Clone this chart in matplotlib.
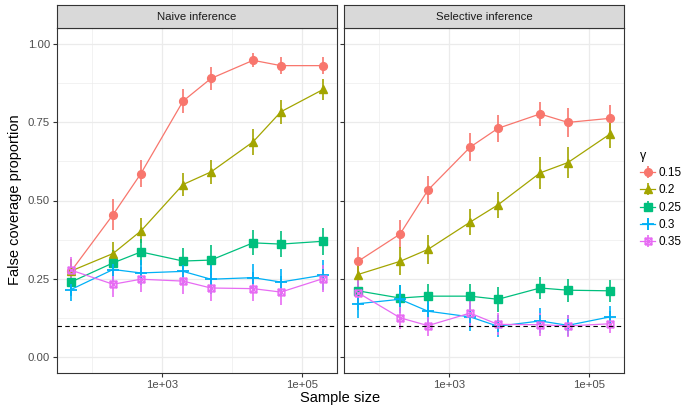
import numpy as np
import matplotlib
matplotlib.use('Agg')
import matplotlib.pyplot as plt
from matplotlib.path import Path
from matplotlib.ticker import FixedLocator, NullFormatter

plt.rcParams['font.family'] = ['Liberation Sans', 'DejaVu Sans']

# data
sample_size = [50, 200, 500, 2000, 5000, 20000, 50000, 200000]
gammas = ['0.15', '0.2', '0.25', '0.3', '0.35']
panels = ['Naive inference', 'Selective inference']

naive = {
    '0.15': [0.274, 0.455, 0.586, 0.817, 0.889, 0.947, 0.930, 0.930],
    '0.2':  [0.275, 0.331, 0.403, 0.551, 0.591, 0.687, 0.783, 0.854],
    '0.25': [0.240, 0.301, 0.336, 0.307, 0.310, 0.365, 0.361, 0.370],
    '0.3':  [0.216, 0.280, 0.269, 0.274, 0.249, 0.254, 0.240, 0.262],
    '0.35': [0.278, 0.233, 0.249, 0.243, 0.221, 0.219, 0.208, 0.251],
}
naive_err = {
    '0.15': [0.040, 0.050, 0.043, 0.037, 0.036, 0.022, 0.027, 0.027],
    '0.2':  [0.040, 0.037, 0.040, 0.038, 0.038, 0.041, 0.038, 0.034],
    '0.25': [0.040, 0.040, 0.042, 0.043, 0.047, 0.040, 0.041, 0.043],
    '0.3':  [0.037, 0.040, 0.040, 0.040, 0.047, 0.044, 0.042, 0.048],
    '0.35': [0.043, 0.041, 0.040, 0.040, 0.043, 0.040, 0.040, 0.043],
}
selective = {
    '0.15': [0.306, 0.393, 0.533, 0.670, 0.730, 0.776, 0.749, 0.762],
    '0.2':  [0.264, 0.306, 0.344, 0.431, 0.486, 0.588, 0.621, 0.712],
    '0.25': [0.212, 0.189, 0.195, 0.195, 0.185, 0.221, 0.214, 0.212],
    '0.3':  [0.171, 0.185, 0.147, 0.129, 0.099, 0.116, 0.102, 0.129],
    '0.35': [0.206, 0.126, 0.101, 0.141, 0.105, 0.104, 0.100, 0.107],
}
selective_err = {
    '0.15': [0.045, 0.045, 0.044, 0.045, 0.044, 0.037, 0.045, 0.042],
    '0.2':  [0.040, 0.045, 0.045, 0.041, 0.042, 0.050, 0.050, 0.045],
    '0.25': [0.040, 0.040, 0.039, 0.040, 0.040, 0.036, 0.037, 0.036],
    '0.3':  [0.046, 0.045, 0.047, 0.045, 0.035, 0.040, 0.034, 0.036],
    '0.35': [0.042, 0.036, 0.034, 0.041, 0.035, 0.036, 0.034, 0.031],
}
target_level = 0.1

colors = ['#F8766D', '#A3A500', '#00BF7D', '#00B0F6', '#E76BF3']

# square with a cross inside (ggplot shape 7)
boxx = Path([(-1, -1), (1, -1), (1, 1), (-1, 1), (-1, -1), (-1, -1), (1, 1), (-1, 1), (1, -1)],
            [1, 2, 2, 2, 2, 1, 2, 1, 2])
markers = [
    dict(marker='o', ms=5.6),
    dict(marker='^', ms=6.2),
    dict(marker='s', ms=5.6),
    dict(marker='+', ms=8.5, mew=1.3),
    dict(marker=boxx, ms=4.8, mfc='none', mew=1.1),
]

fig = plt.figure(figsize=(6.84, 4.08), dpi=100)
W, H = 684, 408
panel_x = [57, 344]
panel_w = 280
top, bottom = 28, 373
strip_top = 5

x = np.array(sample_size)
axes = []
for k, (name, vals, errs) in enumerate(zip(panels, [naive, selective], [naive_err, selective_err])):
    ax = fig.add_axes([panel_x[k] / W, (H - bottom) / H, panel_w / W, (bottom - top) / H])
    axes.append(ax)
    ax.set_xscale('log')
    ax.set_xlim(10 ** 1.5, 10 ** 5.5)
    ax.set_ylim(-0.05, 1.05)
    ax.xaxis.set_major_locator(FixedLocator([1e3, 1e5]))
    ax.xaxis.set_minor_locator(FixedLocator([1e2, 1e4]))
    ax.xaxis.set_minor_formatter(NullFormatter())
    ax.set_xticklabels(['1e+03', '1e+05'])
    ax.yaxis.set_major_locator(FixedLocator([0, 0.25, 0.5, 0.75, 1.0]))
    ax.yaxis.set_minor_locator(FixedLocator([0.125, 0.375, 0.625, 0.875]))
    ax.set_yticklabels(['0.00', '0.25', '0.50', '0.75', '1.00'])
    ax.grid(which='major', color='#EBEBEB', lw=0.9)
    ax.grid(which='minor', color='#EBEBEB', lw=0.45)
    ax.set_axisbelow(True)
    ax.tick_params(which='major', length=3, color='#333333', labelsize=8.2, labelcolor='#4D4D4D', pad=2)
    ax.tick_params(which='minor', length=0)
    for s in ax.spines.values():
        s.set_color('#333333')
        s.set_linewidth(0.8)
    if k == 1:
        ax.tick_params(axis='y', labelleft=False)

    for g, c, m in zip(gammas, colors, markers):
        ax.errorbar(x, vals[g], yerr=errs[g], color=c, lw=0.9, elinewidth=1.2,
                    capsize=0, label=g, zorder=3, **m)
    ax.axhline(target_level, color='black', lw=0.8, ls=(0, (4, 3)), zorder=4)

    sax = fig.add_axes([panel_x[k] / W, (H - top) / H, panel_w / W, (top - strip_top) / H])
    sax.set_facecolor('#D9D9D9')
    sax.set_xticks([])
    sax.set_yticks([])
    for s in sax.spines.values():
        s.set_color('#333333')
        s.set_linewidth(0.8)
    sax.text(0.5, 0.5, name, ha='center', va='center', fontsize=8.2, color='#1A1A1A',
             transform=sax.transAxes)

fig.text(15 / W, 1 - 200 / H, 'False coverage proportion', rotation=90, ha='center', va='center', fontsize=10.5)
fig.text(340 / W, 1 - 398 / H, 'Sample size', ha='center', va='center', fontsize=10.5)

handles, labels = axes[0].get_legend_handles_labels()
leg = fig.legend(handles, labels, title='\u03b3', loc='center left', bbox_to_anchor=(634 / W, 1 - 199 / H),
                 frameon=False, fontsize=8.5, title_fontsize=9, handlelength=1.3, handletextpad=0.3,
                 labelspacing=0.45, alignment='left', borderpad=0)

fig.savefig('out.png', dpi=100)
